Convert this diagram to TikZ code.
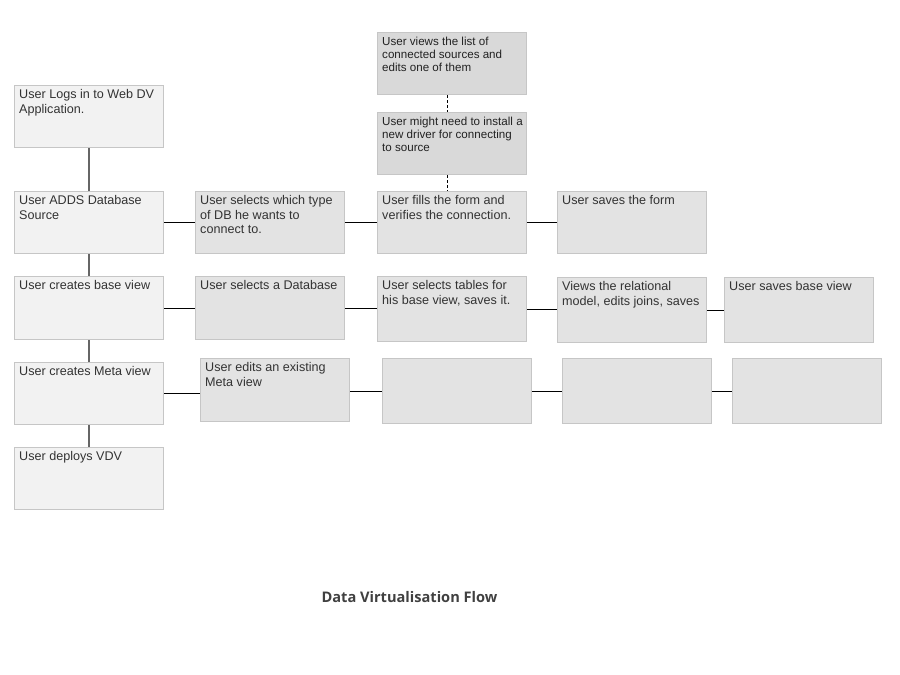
\documentclass[tikz,border=0pt]{standalone}
\usepackage{fontspec}
\setmainfont{Liberation Sans}
\newfontfamily\titlefont{Open Sans}
\definecolor{clite}{HTML}{F2F2F2}
\definecolor{cmid}{HTML}{E3E3E3}
\definecolor{cdark}{HTML}{D9D9D9}
\definecolor{cborder}{HTML}{C6C6C6}
\definecolor{ctxt}{HTML}{333333}
\definecolor{ctxtdark}{HTML}{222222}
\definecolor{cvline}{HTML}{666666}
\definecolor{ctitle}{HTML}{404040}
\begin{document}
\begin{tikzpicture}[x=1pt,y=-1pt,
  boxbase/.style={draw=cborder, line width=1pt, anchor=north west, minimum width=149pt, minimum height=62pt, inner sep=0pt},
  boxlite/.style={boxbase, fill=clite},
  boxmid/.style={boxbase, fill=cmid},
  boxdark/.style={boxbase, fill=cdark},
  txt/.style={anchor=north west, inner xsep=5pt, inner ysep=4.5pt, align=left, text=ctxt, font=\fontsize{12.6}{14.5}\selectfont},
  txtsmall/.style={anchor=north west, inner xsep=5pt, inner ysep=4.5pt, align=left, text=ctxtdark, font=\fontsize{11.6}{13.2}\selectfont},
  vconn/.style={draw=cvline, line width=1.5pt},
  hconn/.style={draw=black, line width=1pt},
  dconn/.style={draw=black, line width=0.9pt, dash pattern=on 3pt off 2pt}
]
\useasboundingbox[fill=white] (0,0) rectangle (900,675);

% left column
\node[boxlite, label={[txt]north west:{User Logs in to Web DV\\Application.}}] (b1) at (14,85) {};
\node[boxlite, label={[txt]north west:{User ADDS Database\\Source}}] (b2) at (14,191) {};
\node[boxlite, minimum height=63pt, label={[txt]north west:{User creates base view}}] (b3) at (14,276) {};
\node[boxlite, label={[txt]north west:{User creates Meta view}}] (b4) at (14,362) {};
\node[boxlite, label={[txt]north west:{User deploys VDV}}] (b5) at (14,447) {};

% second column
\node[boxmid, label={[txt]north west:{User selects which type\\of DB he wants to\\connect to.}}] (c2) at (195,191) {};
\node[boxmid, minimum height=63pt, label={[txt]north west:{User selects a Database}}] (c3) at (195,276) {};
\node[boxmid, minimum height=63pt, label={[txt]north west:{User edits an existing\\Meta view}}] (c4) at (200,358) {};

% third column
\node[boxdark, label={[txtsmall]north west:{User views the list of\\connected sources and\\edits one of them}}] (d0) at (377,32) {};
\node[boxdark, label={[txtsmall]north west:{User might need to install a\\new driver for connecting\\to source}}] (dm) at (377,112) {};
\node[boxmid, label={[txt]north west:{User fills the form and\\verifies the connection.}}] (d2) at (377,191) {};
\node[boxmid, minimum height=65pt, label={[txt]north west:{User selects tables for\\his base view, saves it.}}] (d3) at (377,276) {};
\node[boxmid, minimum height=65pt] (d4) at (382,358) {};

% fourth column
\node[boxmid, label={[txt]north west:{User saves the form}}] (e2) at (557,191) {};
\node[boxmid, minimum height=65pt, label={[txt]north west:{Views the relational\\model, edits joins, saves}}] (e3) at (557,277) {};
\node[boxmid, minimum height=65pt] (e4) at (562,358) {};

% fifth column
\node[boxmid, minimum height=65pt, label={[txt]north west:{User saves base view}}] (f3) at (724,277) {};
\node[boxmid, minimum height=65pt] (f4) at (732,358) {};

% vertical connectors
\draw[vconn] (b1) -- (b2);
\draw[vconn] (b2) -- (b3);
\draw[vconn] (b3) -- (b4);
\draw[vconn] (b4) -- (b5);

% dashed connectors
\draw[dconn] ([xshift=-5pt]d0.south) -- ([xshift=-5pt]dm.north);
\draw[dconn] ([xshift=-5pt]dm.south) -- ([xshift=-5pt]d2.north);

% horizontal connectors
\draw[hconn] (b2.east) -- (b2.east -| c2.west);
\draw[hconn] (c2.east) -- (c2.east -| d2.west);
\draw[hconn] (d2.east) -- (d2.east -| e2.west);

\draw[hconn] (b3.east) -- (b3.east -| c3.west);
\draw[hconn] (c3.east) -- (c3.east -| d3.west);
\draw[hconn] (d3.east) -- (d3.east -| e3.west);
\draw[hconn] (e3.east) -- (e3.east -| f3.west);

\draw[hconn] (b4.east) -- (b4.east -| c4.west);
\draw[hconn] ([yshift=-1.5pt]c4.east) -- ([yshift=-1.5pt]c4.east -| d4.west);
\draw[hconn] (d4.east) -- (d4.east -| e4.west);
\draw[hconn] (e4.east) -- (e4.east -| f4.west);

% title
\node[anchor=base, text=ctitle, font=\titlefont\bfseries\fontsize{14.6}{17}\selectfont] (title) at (409.5,602) {Data Virtualisation Flow};
\end{tikzpicture}
\end{document}
